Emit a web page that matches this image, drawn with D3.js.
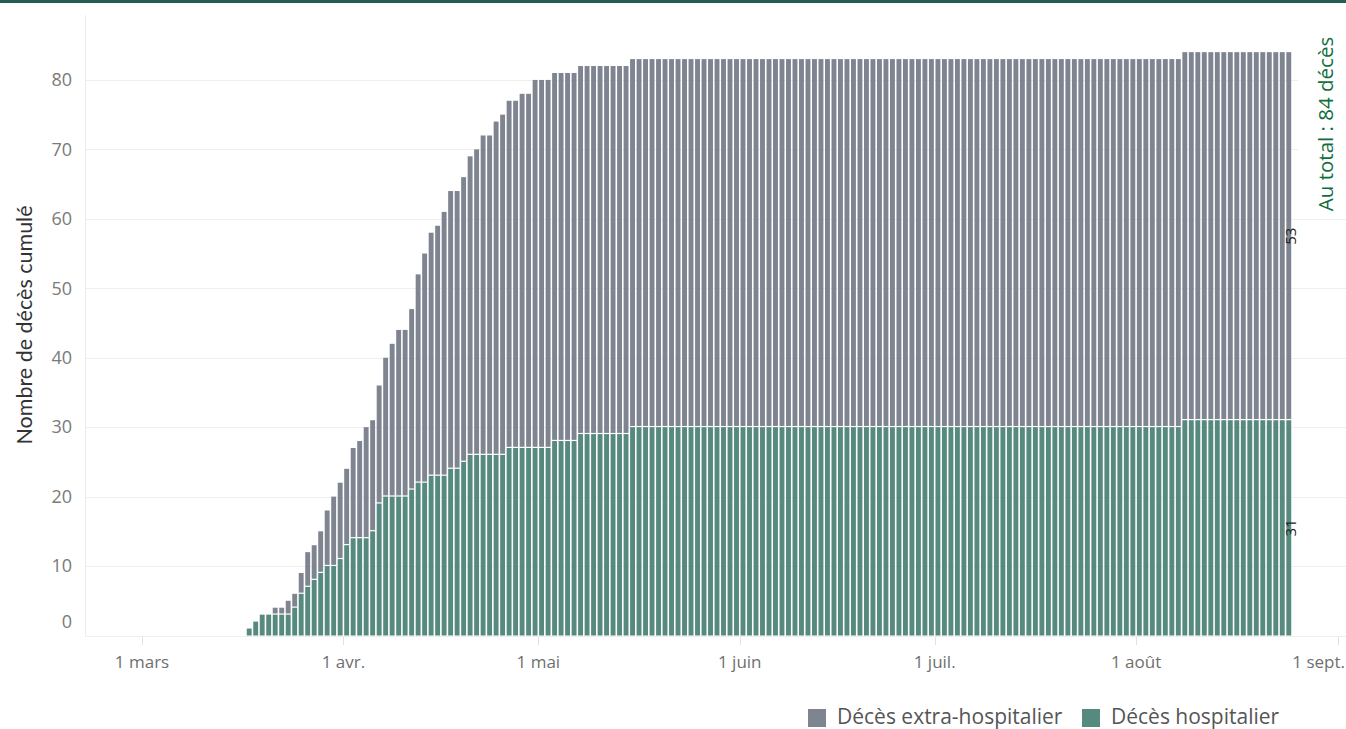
<!DOCTYPE html>
<html><head><meta charset="utf-8">
<script src="https://cdn.jsdelivr.net/npm/d3@7"></script>
<style>
body{margin:0;background:#fff;}
svg{display:block;font-family:"Open Sans",sans-serif;}
</style>
</head><body>
<svg id="c" width="1346" height="729"></svg>
<script>
// ---- data ----
const firstDay = "2020-03-17";
const lastDay = "2020-08-24";
const hospital = [
 1,2,3,3,3,3,3,4,6,7,
 8,9,10,10,11,13,14,14,14,15,
 19,20,20,20,20,21,22,22,23,23,
 23,24,24,25,26,26,26,26,26,26,
 27,27,27,27,27,27,27,28,28,28,
 28,29,29,29,29,29,29,29,29,30,
 30,30,30,30,30,30,30,30,30,30,
 30,30,30,30,30,30,30,30,30,30,
 30,30,30,30,30,30,30,30,30,30,
 30,30,30,30,30,30,30,30,30,30,
 30,30,30,30,30,30,30,30,30,30,
 30,30,30,30,30,30,30,30,30,30,
 30,30,30,30,30,30,30,30,30,30,
 30,30,30,30,30,30,30,30,30,30,
 30,30,30,30,31,31,31,31,31,31,
 31,31,31,31,31,31,31,31,31,31,
 31
];
const extra = [
 0,0,0,0,1,1,2,2,3,5,
 5,6,8,10,11,11,13,14,16,16,
 17,20,22,24,24,26,30,33,35,36,
 38,40,40,41,43,44,46,46,48,49,
 50,50,51,51,53,53,53,53,53,53,
 53,53,53,53,53,53,53,53,53,53,
 53,53,53,53,53,53,53,53,53,53,
 53,53,53,53,53,53,53,53,53,53,
 53,53,53,53,53,53,53,53,53,53,
 53,53,53,53,53,53,53,53,53,53,
 53,53,53,53,53,53,53,53,53,53,
 53,53,53,53,53,53,53,53,53,53,
 53,53,53,53,53,53,53,53,53,53,
 53,53,53,53,53,53,53,53,53,53,
 53,53,53,53,53,53,53,53,53,53,
 53,53,53,53,53,53,53,53,53,53,
 53
];
const yTicks = [0,10,20,30,40,50,60,70,80];
const monthTicks = ["2020-03-01","2020-04-01","2020-05-01","2020-06-01","2020-07-01","2020-08-01","2020-09-01"];
const monthLabels = ["1 mars","1 avr.","1 mai","1 juin","1 juil.","1 août","1 sept."];
const seriesNames = ["Décès extra-hospitalier","Décès hospitalier"];
const totalLabel = "Au total : 84 décès";
const yTitle = "Nombre de décès cumulé";

// ---- layout ----
const W = 1346, H = 729;
const plotLeft = 85, plotTop = 15, plotRight = 1346;
const colExtra = "#7e8490", colHosp = "#578a7e";
const svg = d3.select("#c");

const parse = d3.utcParse("%Y-%m-%d");
const days = d3.utcDay.range(parse(firstDay), d3.utcDay.offset(parse(lastDay), 1));
const data = days.map((d, i) => ({date: d, hosp: hospital[i], extra: extra[i]}));

const x = d3.scaleUtc().domain([parse("2020-03-01"), parse("2020-09-01")]).range([142, 1337.5]);
const y = d3.scaleLinear().domain([0, 89.35]).range([635.5, plotTop]);

// top border
svg.append("rect").attr("x",0).attr("y",0).attr("width",W).attr("height",3).attr("fill","#1f5d55");

// gridlines
svg.append("g").selectAll("line").data(yTicks).join("line")
  .attr("x1", plotLeft).attr("x2", plotRight)
  .attr("y1", d => Math.round(y(d)) + 0.5).attr("y2", d => Math.round(y(d)) + 0.5)
  .attr("stroke", "#efefef").attr("stroke-width", 1);
// left axis line
svg.append("line").attr("x1", plotLeft + 0.5).attr("x2", plotLeft + 0.5)
  .attr("y1", plotTop).attr("y2", y(0)).attr("stroke", "#ececec");

// y tick labels
svg.append("g").selectAll("text").data(yTicks).join("text")
  .attr("x", 72).attr("y", d => d === 0 ? y(0) - 14 : y(d))
  .attr("dy", "0.35em").attr("text-anchor", "end")
  .attr("font-size", 18).attr("fill", "#7a7a7a").text(d => d);

// y title
svg.append("text").attr("transform", `translate(32,${325}) rotate(-90)`)
  .attr("text-anchor", "middle").attr("font-size", 21.5).attr("fill", "#333")
  .attr("font-family", "Lato, sans-serif").text(yTitle);

// bars
const bw = d => x(d3.utcDay.offset(d, 1)) - x(d);
const gBars = svg.append("g");
gBars.selectAll("rect.h").data(data).join("rect").attr("class","h")
  .attr("x", d => x(d.date) + 0.8).attr("width", d => bw(d.date) - 1.6)
  .attr("y", d => y(d.hosp)).attr("height", d => y(0) - y(d.hosp))
  .attr("fill", colHosp);
gBars.selectAll("rect.e").data(data.filter(d => d.extra > 0)).join("rect").attr("class","e")
  .attr("x", d => x(d.date) + 0.8).attr("width", d => bw(d.date) - 1.6)
  .attr("y", d => y(d.hosp + d.extra)).attr("height", d => y(d.hosp) - y(d.hosp + d.extra) - 1.2)
  .attr("fill", colExtra);

// x axis ticks
const mt = monthTicks.map(parse);
svg.append("g").selectAll("line").data(mt).join("line")
  .attr("x1", d => Math.round(x(d)) + 0.5).attr("x2", d => Math.round(x(d)) + 0.5)
  .attr("y1", 637).attr("y2", 645).attr("stroke", "#e2e2e2");
svg.append("g").selectAll("text").data(mt).join("text")
  .attr("x", (d, i) => i === mt.length - 1 ? W - 1 : x(d)).attr("y", 668)
  .attr("text-anchor", (d, i) => i === mt.length - 1 ? "end" : "middle")
  .attr("font-size", 17).attr("fill", "#6f6f6f").text((d, i) => monthLabels[i]);

// segment labels on last bar
const last = data[data.length - 1];
const lx = x(last.date) + bw(last.date) - 1;
svg.append("text").attr("transform", `translate(${lx + 5},${(y(0) + y(last.hosp)) / 2}) rotate(-90)`)
  .attr("text-anchor", "middle").attr("font-size", 15).attr("fill", "#222").text(last.hosp);
svg.append("text").attr("transform", `translate(${lx + 5},${(y(last.hosp) + y(last.hosp + last.extra)) / 2}) rotate(-90)`)
  .attr("text-anchor", "middle").attr("font-size", 15).attr("fill", "#222").text(last.extra);

// total annotation
svg.append("rect").attr("x", 1298).attr("y", plotTop).attr("width", 48).attr("height", 200).attr("fill", "#fff");
svg.append("text").attr("transform", `translate(1333,124) rotate(-90)`)
  .attr("text-anchor", "middle").attr("font-size", 20.5).attr("fill", "#0f6e3e").text(totalLabel);

// legend
const legend = svg.append("g");
const legItems = [{name: seriesNames[0], color: colExtra, x: 808}, {name: seriesNames[1], color: colHosp, x: 1082}];
legend.selectAll("rect").data(legItems).join("rect")
  .attr("x", d => d.x).attr("y", 709).attr("width", 18).attr("height", 18).attr("fill", d => d.color);
legend.selectAll("text").data(legItems).join("text")
  .attr("x", d => d.x + 29).attr("y", 724).attr("font-size", 21).attr("fill", "#555").text(d => d.name);
</script>
</body></html>
